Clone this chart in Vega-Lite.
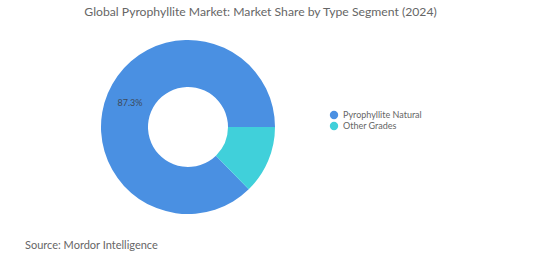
{
  "$schema": "https://vega.github.io/schema/vega-lite/v6.json",
  "autosize": {"type": "pad"},
  "padding": {"left": 25, "top": 5, "right": 0, "bottom": 0},
  "background": "white",
  "title": {
    "text": "Global Pyrophyllite Market: Market Share by Type Segment (2024)",
    "anchor": "middle",
    "dx": 37,
    "offset": 22,
    "fontSize": 12.2,
    "font": "Lato",
    "fontWeight": "normal",
    "color": "#666666"
  },
  "config": {"view": {"stroke": null}},
  "vconcat": [
    {
      "width": 174,
      "height": 174,
      "title": {
        "text": "Source: Mordor Intelligence",
        "orient": "bottom",
        "anchor": "start",
        "dx": -76,
        "offset": 26,
        "fontSize": 11,
        "font": "Lato",
        "fontWeight": "normal",
        "color": "#666666"
      },
      "data": {
        "values": [
          {"type": "Pyrophyllite Natural", "share": 87.3, "label": "87.3%"},
          {"type": "Other Grades", "share": 12.7, "label": "12.7%"}
        ]
      },
      "encoding": {
        "theta": {"field": "share", "type": "quantitative", "stack": true, "scale": {"range": [1.5708, 7.854]}},
        "order": {"field": "share", "sort": "ascending"},
        "color": {
          "field": "type",
          "type": "nominal",
          "scale": {"domain": ["Pyrophyllite Natural", "Other Grades"], "range": ["#4a90e2", "#40d0da"]},
          "legend": {
            "title": null,
            "orient": "none",
            "legendX": 228,
            "legendY": 70,
            "symbolType": "circle",
            "symbolSize": 70,
            "labelFontSize": 9,
            "labelOffset": 4,
            "labelFont": "Lato",
            "labelColor": "#666666",
            "rowPadding": 1
          }
        }
      },
      "layer": [
        {"mark": {"type": "arc", "innerRadius": 40, "outerRadius": 87}},
        {
          "mark": {"type": "text", "radius": 63, "fontSize": 9, "font": "Lato"},
          "encoding": {
            "text": {"condition": {"test": "datum.share > 50", "field": "label"}, "value": ""},
            "color": {"value": "#3d4a5a"}
          }
        }
      ]
    }
  ]
}
